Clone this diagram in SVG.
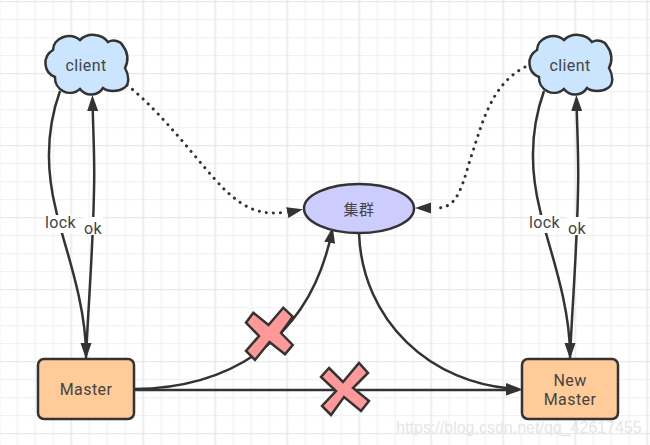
<svg xmlns="http://www.w3.org/2000/svg" width="650" height="445" viewBox="0 0 650 445">
<defs>
<pattern id="minor" width="18" height="18" patternUnits="userSpaceOnUse" x="-1.5" y="1"><path d="M0.5 0V18M0 0.5H18" fill="none" stroke="#f2f2f2" stroke-width="1.6"/></pattern>
<pattern id="major" width="72" height="72" patternUnits="userSpaceOnUse" x="-1.5" y="1"><path d="M0.5 0V72M0 0.5H72" fill="none" stroke="#e9e9e9" stroke-width="1.6"/></pattern>
<marker id="arr" markerUnits="userSpaceOnUse" markerWidth="16" markerHeight="12" refX="12" refY="6" orient="auto"><path d="M0 0.500L16 6L0 11.500Z" fill="#333"/></marker>
<path id="cloud" d="M55 77A15 15 0 0 1 53 50A16 14 0 0 1 80 40A17 14 0 0 1 108 42A10 8 0 0 1 123 46A20 20 0 0 1 125 68C129 75 130 84 124 88C118 92 108 92 103 88A14 14 0 0 1 80 89A15 15 0 0 1 55 77Z"/>
</defs>
<style>
.ln{fill:none;stroke:#333;stroke-width:2.5}
.nd{stroke:#333;stroke-width:2.5}
.dot{stroke-width:3;stroke-dasharray:0.1 7;stroke-linecap:round}
.hd{fill:none;stroke:none}
text{font-family:Roboto,"Noto Sans CJK SC",sans-serif;font-size:16px;letter-spacing:0.4px;fill:#444;text-anchor:middle}
.lb{fill:#fff}
</style>
<rect width="650" height="445" fill="#fff"/>
<rect width="650" height="445" fill="url(#minor)"/>
<rect width="650" height="445" fill="url(#major)"/>
<g id="connectors">
<path class="ln" d="M60 91C46 130 46 170 56 210C62 240 86 300 86 355" marker-end="url(#arr)"/>
<path class="ln" d="M86 358C88 310 93 250 94 190C95 160 93 130 92.500 99" marker-end="url(#arr)"/>
<path class="ln" d="M544 91C530 130 530 170 540 210C546 240 570 300 570 355" marker-end="url(#arr)"/>
<path class="ln" d="M570 358C572 310 577 250 578 190C579 160 577 130 576.500 99" marker-end="url(#arr)"/>
<path class="ln dot" d="M127 85C165 115 200 165 225 190C245 209 262 216 286 212"/>
<path class="hd" d="M286 212.800L299 210" marker-end="url(#arr)"/>
<path class="ln dot" d="M525 67C490 85 482 125 470 160C460 195 455 208 436 208"/>
<path class="hd" d="M432 208L419 208" marker-end="url(#arr)"/>
<path class="ln" d="M134 389C230 388 310 340 332 231" marker-end="url(#arr)"/>
<path class="ln" d="M359 233C362 320 430 385 518 389" marker-end="url(#arr)"/>
<path class="ln" d="M134 390H518" marker-end="url(#arr)"/>
</g>
<g id="label-lock"><rect class="lb" x="45" y="215" width="31" height="18"/><text x="60.500" y="228">lock</text></g>
<g id="label-ok"><rect class="lb" x="83" y="217" width="20" height="18"/><text x="93" y="234">ok</text></g>
<g id="label-lock2"><rect class="lb" x="529" y="215" width="31" height="18"/><text x="544.500" y="228">lock</text></g>
<g id="label-ok2"><rect class="lb" x="567" y="217" width="20" height="18"/><text x="577" y="234">ok</text></g>
<g id="client-left"><use href="#cloud" fill="#cce5ff" class="nd"/><text x="86" y="70.500">client</text></g>
<g id="client-right"><use href="#cloud" x="484" fill="#cce5ff" class="nd"/><text x="570" y="70.500">client</text></g>
<g id="cluster"><ellipse class="nd" cx="359" cy="208.500" rx="55" ry="24.500" fill="#ccccff"/><text x="359" y="215" style="font-size:15px">集群</text></g>
<g id="master"><rect class="nd" x="38" y="359" width="96" height="60" rx="6" fill="#ffcc99"/><text x="86" y="395">Master</text></g>
<g id="new-master"><rect class="nd" x="522" y="359" width="96" height="60" rx="6" fill="#ffcc99"/><text x="570" y="386"><tspan x="570">New</tspan><tspan x="570" dy="19">Master</tspan></text></g>
<g id="cross-1"><path class="nd" fill="#ff9999" d="M253.300 312.700L268.500 325L283.300 307.700L292.700 316.700L281 333L292.700 345L285 354.300L269.500 342L255 360L246 351L259 336L246 322.700Z"/></g>
<g id="cross-2"><path class="nd" fill="#ff9999" d="M329 368L343 382L359 363L368 373L353 388L369 401L361 411L344 397L331 415L322 406L336 391L321 377Z"/></g>
<text id="watermark" x="519" y="433" style="font-family:'Liberation Sans',sans-serif;letter-spacing:0;fill:#e6e6e6">https://blog.csdn.net/qq_42617455</text>
</svg>
